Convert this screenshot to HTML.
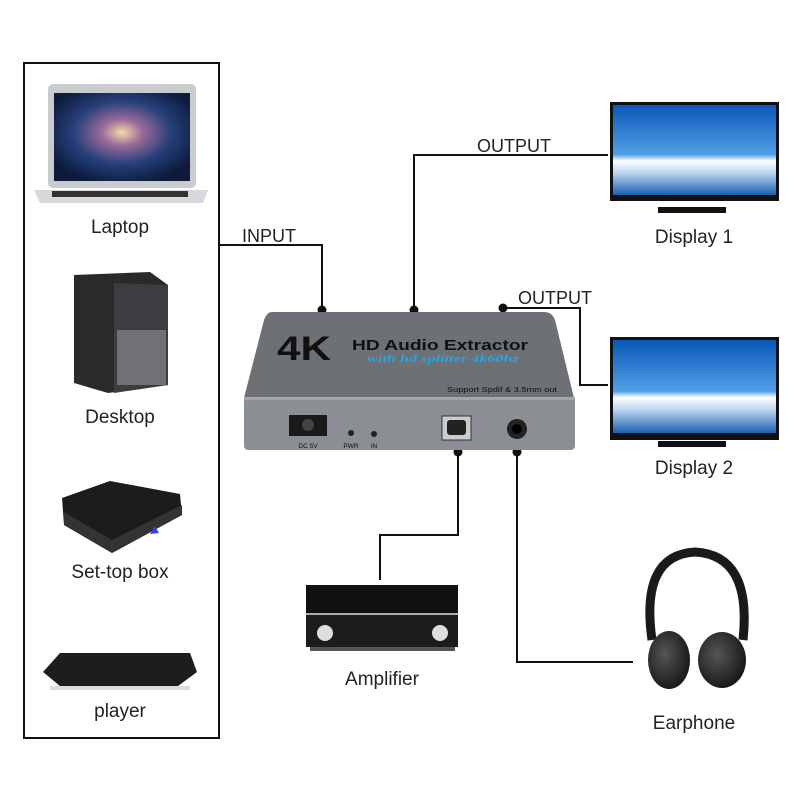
<!DOCTYPE html>
<html><head><meta charset="utf-8"><style>html,body{margin:0;padding:0;background:#fff}svg{display:block}text{font-family:"Liberation Sans",Arial,sans-serif;fill:#222}</style></head>
<body>
<svg width="800" height="800" viewBox="0 0 800 800" xmlns="http://www.w3.org/2000/svg">
<defs>
<radialGradient id="gal" cx="0.5" cy="0.45" r="0.6"><stop offset="0" stop-color="#f3d9a8"/><stop offset="0.25" stop-color="#9a6a9a"/><stop offset="0.6" stop-color="#25407a"/><stop offset="1" stop-color="#0d1a3a"/></radialGradient>
<linearGradient id="scr" x1="0" y1="0" x2="0" y2="1"><stop offset="0" stop-color="#0b57b8"/><stop offset="0.55" stop-color="#4fa0e6"/><stop offset="0.62" stop-color="#ffffff"/><stop offset="0.75" stop-color="#bcd6f0"/><stop offset="1" stop-color="#1b5fb0"/></linearGradient>
<radialGradient id="cup" cx="0.4" cy="0.4" r="0.7"><stop offset="0" stop-color="#555"/><stop offset="1" stop-color="#111"/></radialGradient>
</defs>
<rect x="24" y="63" width="195" height="675" fill="none" stroke="#111" stroke-width="2"/>
<rect x="48" y="84" width="148" height="104" rx="5" fill="#c9cbcf"/>
<rect x="54" y="93" width="136" height="88" fill="url(#gal)"/>
<path d="M34 190 L208 190 L203 203 L40 203 Z" fill="#d6d8dc"/>
<rect x="52" y="191" width="136" height="6" fill="#333"/>
<text x="120" y="233" font-size="19" text-anchor="middle">Laptop</text>
<path d="M74 275 L150 272 L168 285 L168 385 L108 393 L74 383 Z" fill="#2a2a2c"/>
<path d="M114 283 L168 285 L168 385 L114 393 Z" fill="#3c3d40"/>
<rect x="117" y="330" width="49" height="55" fill="#6f7175"/>
<text x="120" y="423" font-size="19" text-anchor="middle">Desktop</text>
<path d="M62 498 L110 481 L180 494 L182 515 L112 553 L64 525 Z" fill="#1c1c1e"/>
<path d="M64 512 L112 540 L182 505 L182 515 L112 553 L64 525 Z" fill="#333"/>
<path d="M150 534 L155 526 L159 533 Z" fill="#3a3cf0"/>
<text x="120" y="578" font-size="19" text-anchor="middle">Set-top box</text>
<path d="M60 653 L190 653 L197 672 L178 686 L60 686 L43 672 Z" fill="#1d1d1f"/>
<rect x="50" y="686" width="140" height="4" fill="#ddd"/>
<text x="120" y="717" font-size="19" text-anchor="middle">player</text>

<g fill="none" stroke="#111" stroke-width="2">
<path d="M219 245 H322 V310"/>
<path d="M414 310 V155 H608"/>
<path d="M503 308 H580 V385 H608"/>
<path d="M458 452 V535 H380 V580"/>
<path d="M517 452 V662 H633"/>
</g>
<g fill="#111"><circle cx="322" cy="310" r="4.5"/><circle cx="414" cy="310" r="4.5"/><circle cx="503" cy="308" r="4.5"/><circle cx="458" cy="452" r="4.5"/><circle cx="517" cy="452" r="4.5"/></g>
<text x="242" y="242" font-size="18">INPUT</text>
<text x="477" y="152" font-size="18">OUTPUT</text>
<text x="518" y="304" font-size="18">OUTPUT</text>

<path d="M272 312 L544 312 Q552 312 555 320 L574 398 L244 398 L264 320 Q267 312 272 312 Z" fill="#6d7075"/>
<rect x="244" y="397" width="331" height="53" rx="4" fill="#8b8e93"/>
<rect x="244" y="397" width="331" height="3" fill="#a2a5aa"/>
<text x="277" y="360" font-size="34" font-weight="bold" style="fill:#111" textLength="54" lengthAdjust="spacingAndGlyphs">4K</text>
<text x="352" y="350" font-size="15" font-weight="bold" style="fill:#111" textLength="176" lengthAdjust="spacingAndGlyphs">HD Audio Extractor</text>
<text x="367" y="362" font-size="10" font-weight="bold" style="fill:#1aa8f0;font-style:italic;font-family:'Liberation Serif',serif" textLength="152" lengthAdjust="spacingAndGlyphs">with hd splitter 4k60hz</text>
<text x="447" y="392" font-size="7" style="fill:#111" textLength="110" lengthAdjust="spacingAndGlyphs">Support Spdif &amp; 3.5mm out</text>
<rect x="289" y="415" width="38" height="21" fill="#1a1a1a"/><circle cx="308" cy="425" r="6" fill="#444"/>
<text x="308" y="448" font-size="6.5" text-anchor="middle" style="fill:#111">DC 5V</text>
<circle cx="351" cy="433" r="3" fill="#222"/><text x="351" y="448" font-size="6.5" text-anchor="middle" style="fill:#111">PWR</text>
<circle cx="374" cy="434" r="3" fill="#222"/><text x="374" y="448" font-size="6.5" text-anchor="middle" style="fill:#111">IN</text>
<rect x="442" y="416" width="29" height="24" fill="#ccc" stroke="#333"/><rect x="447" y="420" width="19" height="15" rx="3" fill="#222"/>
<circle cx="517" cy="429" r="10" fill="#222"/><circle cx="517" cy="429" r="5" fill="#000"/>

<rect x="610" y="102" width="169" height="99" fill="#111"/>
<rect x="613" y="105" width="163" height="90" fill="url(#scr)"/>
<rect x="658" y="207" width="68" height="6" fill="#111"/>
<text x="694" y="243" font-size="19" text-anchor="middle">Display 1</text>
<rect x="610" y="337" width="169" height="103" fill="#111"/>
<rect x="613" y="340" width="163" height="93" fill="url(#scr)"/>
<rect x="658" y="441" width="68" height="6" fill="#111"/>
<text x="694" y="474" font-size="19" text-anchor="middle">Display 2</text>

<rect x="306" y="585" width="152" height="28" fill="#111"/>
<rect x="306" y="613" width="152" height="2" fill="#aaa"/>
<rect x="306" y="615" width="152" height="32" fill="#1c1c1c"/>
<circle cx="325" cy="633" r="8" fill="#ddd"/><circle cx="440" cy="633" r="8" fill="#ddd"/>
<rect x="310" y="647" width="145" height="4" fill="#555"/>
<text x="382" y="685" font-size="19" text-anchor="middle">Amplifier</text>

<path d="M652 640 Q640 555 695 552 Q752 555 743 640" fill="none" stroke="#1a1a1a" stroke-width="9"/>
<ellipse cx="669" cy="660" rx="21" ry="29" fill="url(#cup)"/>
<ellipse cx="722" cy="660" rx="24" ry="28" fill="url(#cup)"/>
<text x="694" y="729" font-size="19" text-anchor="middle">Earphone</text>
</svg>
</body></html>
